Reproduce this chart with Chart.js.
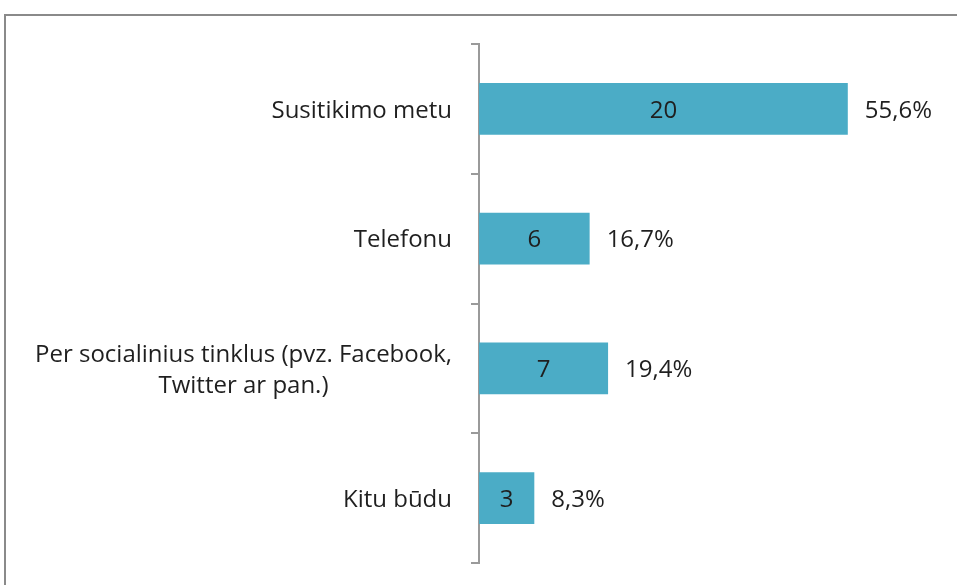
<!DOCTYPE html>
<html>
<head>
<meta charset="utf-8">
<script src="https://cdn.jsdelivr.net/npm/chart.js@4/dist/chart.umd.min.js"></script>
<style>
  html, body { margin: 0; padding: 0; background: #fff; }
  #wrap { position: relative; width: 957px; height: 585px; }
</style>
</head>
<body>
<div id="wrap"><canvas id="myChart"></canvas></div>
<script>
// Duomenys
const categories = [
    ['Susitikimo metu'],
    ['Telefonu'],
    ['Per socialinius tinklus (pvz. Facebook,', 'Twitter ar pan.)'],
    ['Kitu būdu']
];
const counts = [20, 6, 7, 3];
const xMax = 25;

const total = counts.reduce((a, b) => a + b, 0);
const percents = counts.map(v => (v / total * 100).toFixed(1).replace('.', ',') + '%');

const FONT = '24px "Open Sans", "Noto Sans", sans-serif';
const TEXT = '#1f1f1f';
const DY = 2; // nedidelis teksto poslinkis žemyn

// Rėmelis aplink diagramą
const framePlugin = {
    id: 'frame',
    beforeDraw(chart) {
        const ctx = chart.ctx;
        ctx.save();
        ctx.strokeStyle = '#8a8a8a';
        ctx.lineWidth = 2;
        ctx.beginPath();
        ctx.moveTo(5, chart.height);
        ctx.lineTo(5, 15);
        ctx.lineTo(chart.width, 15);
        ctx.stroke();
        ctx.restore();
    }
};

// Kategorijų pavadinimai (kelių eilučių tekstas centruojamas bloke)
const labelPlugin = {
    id: 'catLabels',
    afterDraw(chart) {
        const ctx = chart.ctx;
        const yScale = chart.scales.y;
        const right = yScale.right - 27;
        const lineH = 31;
        ctx.save();
        ctx.font = FONT;
        ctx.fillStyle = TEXT;
        ctx.textAlign = 'center';
        ctx.textBaseline = 'middle';
        categories.forEach((lines, i) => {
            const widest = Math.max(...lines.map(l => ctx.measureText(l).width));
            const cx = right - widest / 2;
            const cy = yScale.getPixelForValue(i) + DY;
            const start = cy - (lines.length - 1) * lineH / 2;
            lines.forEach((l, j) => ctx.fillText(l, cx, start + j * lineH));
        });
        ctx.restore();
    }
};

// Reikšmės juostose ir procentai šalia
const valuePlugin = {
    id: 'values',
    afterDatasetsDraw(chart) {
        const ctx = chart.ctx;
        const meta = chart.getDatasetMeta(0);
        const xScale = chart.scales.x;
        ctx.save();
        ctx.font = FONT;
        ctx.fillStyle = TEXT;
        ctx.textBaseline = 'middle';
        meta.data.forEach((bar, i) => {
            const x0 = xScale.getPixelForValue(0);
            ctx.textAlign = 'center';
            ctx.fillText(String(counts[i]), (x0 + bar.x) / 2, bar.y + DY);
            ctx.textAlign = 'left';
            ctx.fillText(percents[i], bar.x + 17, bar.y + DY);
        });
        ctx.restore();
    }
};

const ctx = document.getElementById('myChart').getContext('2d');
const chart = new Chart(ctx, {
    type: 'bar',
    data: {
        labels: categories,
        datasets: [{
            data: counts,
            backgroundColor: '#4bacc6',
            borderWidth: 0,
            barPercentage: 0.4,
            categoryPercentage: 1
        }]
    },
    options: {
        indexAxis: 'y',
        responsive: true,
        maintainAspectRatio: false,
        animation: false,
        layout: {
            padding: { top: 44, bottom: 22, right: 17, left: 0 }
        },
        plugins: {
            legend: { display: false },
            tooltip: { enabled: false }
        },
        scales: {
            x: {
                display: false,
                min: 0,
                max: xMax
            },
            y: {
                afterFit(scale) { scale.width = 479; },
                border: { display: true, color: '#9a9a9a', width: 2 },
                grid: {
                    offset: true,
                    drawOnChartArea: false,
                    drawTicks: true,
                    tickLength: 8,
                    color: '#9a9a9a',
                    lineWidth: 2
                },
                ticks: { display: false }
            }
        }
    },
    plugins: [framePlugin, labelPlugin, valuePlugin]
});
</script>
</body>
</html>
